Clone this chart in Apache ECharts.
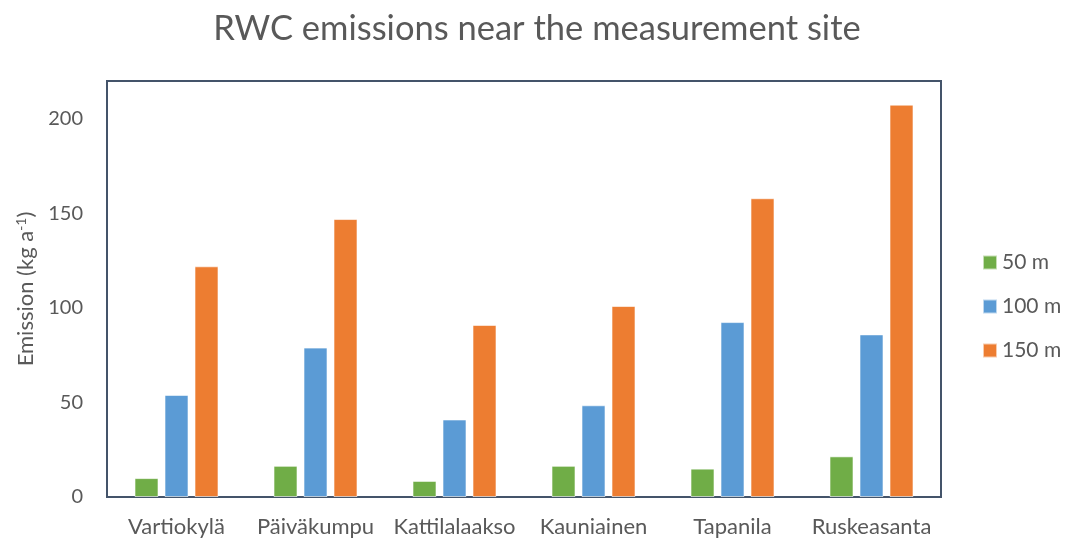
<!DOCTYPE html>
<html>
<head>
<meta charset="utf-8">
<script src="https://cdn.jsdelivr.net/npm/echarts@6/dist/echarts.min.js"></script>
<style>
  html, body { margin: 0; padding: 0; background: #ffffff; }
  #chart { width: 1066px; height: 538px; }
</style>
</head>
<body>
<div id="chart"></div>
<script>
// Sites and annual residential wood combustion emissions within each radius
const sites = ['Vartiokylä', 'Päiväkumpu', 'Kattilalaakso', 'Kauniainen', 'Tapanila', 'Ruskeasanta'];
const seriesNames = ['50 m', '100 m', '150 m'];
const emis50 = [10, 16.5, 8.5, 16.5, 15, 21.5];
const emis100 = [54, 79, 41, 48.5, 92.5, 86];
const emis150 = [122, 147, 91, 101, 158, 207.5];
const colors = ['#70AD47', '#5B9BD5', '#ED7D31'];

const FONT = 'Lato, "Open Sans", sans-serif';
const TEXT = '#595959';

const chart = echarts.init(document.getElementById('chart'), null, { renderer: 'canvas' });

function barSeries(name, data, color) {
  return {
    name: name,
    type: 'bar',
    data: data,
    barWidth: 24,
    barGap: '25%',
    itemStyle: { color: color, borderColor: 'rgba(255,255,255,0.6)', borderWidth: 1 }
  };
}

chart.setOption({
  animation: false,
  backgroundColor: '#ffffff',
  textStyle: { fontFamily: FONT, color: TEXT },
  title: {
    text: 'RWC emissions near the measurement site',
    left: 532,
    textAlign: 'center',
    top: 6,
    textStyle: { fontFamily: FONT, fontSize: 34.5, fontWeight: 'normal', color: TEXT }
  },
  legend: {
    orient: 'vertical',
    left: 977,
    top: 247,
    itemWidth: 14,
    itemHeight: 14,
    itemGap: 23,
    icon: 'rect',
    textStyle: { fontFamily: FONT, fontSize: 21, color: TEXT },
    data: seriesNames
  },
  grid: {
    left: 107,
    right: 125,
    top: 81,
    bottom: 41,
    show: true,
    borderColor: '#44546A',
    borderWidth: 2,
    containLabel: false
  },
  xAxis: {
    type: 'category',
    data: sites,
    axisLine: { show: false },
    axisTick: { show: false },
    axisLabel: { fontFamily: FONT, fontSize: 22, color: TEXT, margin: 19, interval: 0 }
  },
  yAxis: {
    type: 'value',
    min: 0,
    max: 220,
    interval: 50,
    name: '{n|Emission (kg a}{s|-1}{n|)}',
    nameLocation: 'middle',
    nameGap: 68,
    nameRotate: 90,
    nameTextStyle: {
      rich: {
        n: { fontFamily: FONT, fontSize: 22, color: TEXT },
        s: { fontFamily: FONT, fontSize: 14, color: TEXT, verticalAlign: 'top', padding: [0, 0, 9, 0] }
      }
    },
    axisLine: { show: false },
    axisTick: { show: false },
    splitLine: { show: false },
    axisLabel: { fontFamily: FONT, fontSize: 20, color: TEXT, margin: 24, showMaxLabel: false }
  },
  series: [
    barSeries(seriesNames[0], emis50, colors[0]),
    barSeries(seriesNames[1], emis100, colors[1]),
    barSeries(seriesNames[2], emis150, colors[2])
  ]
});
</script>
</body>
</html>
